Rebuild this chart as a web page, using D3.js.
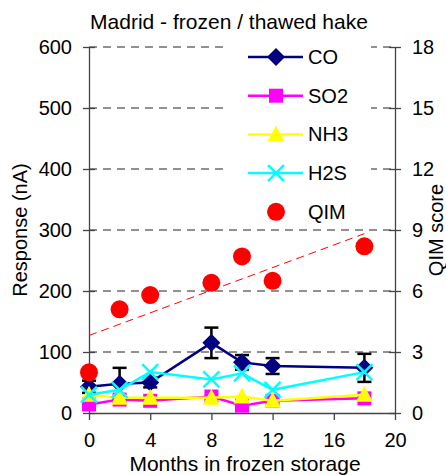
<!DOCTYPE html>
<html>
<head>
<meta charset="utf-8">
<script src="https://cdn.jsdelivr.net/npm/d3@7"></script>
<style>
  body { margin: 0; background: #fff; }
  svg { font-family: "Liberation Sans", Arial, sans-serif; }
</style>
</head>
<body>
<svg id="chart" width="446" height="475"></svg>
<script>

var months = [0, 2, 4, 8, 10, 12, 18];
var coValues = [43, 48, 50, 115, 83, 77, 74];
var coErrors = [10, 26, 8, 25, 12, 13, 23];
var so2Values = [14, 22, 20, 27, 12, 20, 24];
var nh3Values = [30, 25, 25, 25, 27, 20, 30];
var h2sValues = [30, 38, 67, 55, 65, 38, 67];
var qimValues = [2.0, 5.1, 5.8, 6.4, 7.7, 6.5, 8.2];

var xTicks = [0, 4, 8, 12, 16, 20];
var leftTicks = [0, 100, 200, 300, 400, 500, 600];
var rightTicks = [0, 3, 6, 9, 12, 15, 18];

var settings = {
  width: 446, height: 475,
  left: 89, right: 51, top: 47, bottom: 62
};

var svg = d3.select('#chart');
var plotW = settings.width - settings.left - settings.right;
var plotH = settings.height - settings.top - settings.bottom;

var scaleX = d3.scaleLinear().domain([0, 20]).range([0, plotW]);
var scaleY = d3.scaleLinear().domain([0, 600]).range([plotH, 0]);
var scaleQ = d3.scaleLinear().domain([0, 18]).range([plotH, 0]);

var plot = svg.append('g')
  .attr('transform', 'translate(' + settings.left + ',' + settings.top + ')');

// gridlines
plot.selectAll('.grid')
  .data(leftTicks.filter(function(d) { return d > 0; }))
  .enter().append('line')
  .attr('x1', 0).attr('x2', plotW)
  .attr('y1', function(d) { return scaleY(d); })
  .attr('y2', function(d) { return scaleY(d); })
  .attr('stroke', '#222').attr('stroke-width', 1)
  .attr('stroke-dasharray', '8,6');

// axes
var axisL = plot.append('g').call(d3.axisLeft(scaleY).tickValues(leftTicks).tickSizeInner(6).tickSizeOuter(0).tickPadding(11));
var axisR = plot.append('g').attr('transform', 'translate(' + plotW + ',0)')
  .call(d3.axisRight(scaleQ).tickValues(rightTicks).tickSizeInner(6).tickSizeOuter(0).tickPadding(11));
var axisB = plot.append('g').attr('transform', 'translate(0,' + plotH + ')')
  .call(d3.axisBottom(scaleX).tickValues(xTicks).tickSizeInner(7).tickSizeOuter(0).tickPadding(13));

[axisL, axisR].forEach(function(ax) {
  ax.selectAll('.tick line').attr('x1', -6).attr('x2', 6);
});
[axisL, axisR, axisB].forEach(function(ax) {
  ax.select('.domain').attr('stroke', '#444').attr('stroke-width', 1.3);
  ax.selectAll('.tick line').attr('stroke', '#444').attr('stroke-width', 1.3);
  ax.selectAll('.tick text').attr('font-size', 20).attr('fill', '#000')
    .attr('font-family', '"Liberation Sans", Arial, sans-serif');
});

// legend background (drawn before the data, over the gridlines)
var legend = svg.append('g').attr('transform', 'translate(248,57)');
legend.append('rect')
  .attr('x', -22).attr('y', -19).attr('width', 145).attr('height', 186)
  .attr('fill', '#fff');

// QIM trend line (least squares)
var mx = d3.mean(months), my = d3.mean(qimValues);
var sxy = d3.sum(months, function(d, i) { return (d - mx) * (qimValues[i] - my); });
var sxx = d3.sum(months, function(d) { return (d - mx) * (d - mx); });
var slope = sxy / sxx, intercept = my - slope * mx;
plot.append('line')
  .attr('x1', scaleX(0)).attr('y1', scaleQ(intercept))
  .attr('x2', scaleX(18)).attr('y2', scaleQ(intercept + slope * 18))
  .attr('stroke', '#ff0000').attr('stroke-width', 1)
  .attr('stroke-dasharray', '8,5');

// CO error bars
var errG = plot.append('g');
months.forEach(function(m, i) {
  var x = scaleX(m), y1 = scaleY(coValues[i] + coErrors[i]), y2 = scaleY(coValues[i] - coErrors[i]);
  errG.append('line').attr('x1', x).attr('x2', x).attr('y1', y1).attr('y2', y2)
    .attr('stroke', '#000').attr('stroke-width', 2.5);
  [y1, y2].forEach(function(y) {
    errG.append('line').attr('x1', x - 7).attr('x2', x + 7).attr('y1', y).attr('y2', y)
      .attr('stroke', '#000').attr('stroke-width', 2.5);
  });
});

function drawMarker(g, type, color, x, y) {
  if (type === 'diamond') {
    g.append('path').attr('d', 'M' + x + ',' + (y - 9) + 'L' + (x + 9) + ',' + y + 'L' + x + ',' + (y + 9) + 'L' + (x - 9) + ',' + y + 'Z')
      .attr('fill', color);
  } else if (type === 'square') {
    g.append('rect').attr('x', x - 7).attr('y', y - 7).attr('width', 14).attr('height', 14).attr('fill', color);
  } else if (type === 'triangle') {
    g.append('path').attr('d', 'M' + x + ',' + (y - 9) + 'L' + (x + 8.5) + ',' + (y + 7) + 'L' + (x - 8.5) + ',' + (y + 7) + 'Z')
      .attr('fill', color);
  } else if (type === 'cross') {
    g.append('path').attr('d', 'M' + (x - 8) + ',' + (y - 8) + 'L' + (x + 8) + ',' + (y + 8) + 'M' + (x + 8) + ',' + (y - 8) + 'L' + (x - 8) + ',' + (y + 8))
      .attr('stroke', color).attr('stroke-width', 2.5).attr('fill', 'none');
  } else if (type === 'circle') {
    g.append('circle').attr('cx', x).attr('cy', y).attr('r', 9).attr('fill', color);
  }
}

var series = [
  { name: 'CO', values: coValues, color: '#000080', marker: 'diamond' },
  { name: 'SO2', values: so2Values, color: '#ff00ff', marker: 'square' },
  { name: 'NH3', values: nh3Values, color: '#ffff00', marker: 'triangle' },
  { name: 'H2S', values: h2sValues, color: '#00ffff', marker: 'cross' }
];

var line = d3.line()
  .x(function(d, i) { return scaleX(months[i]); })
  .y(function(d) { return scaleY(d); });

series.forEach(function(s) {
  var g = plot.append('g');
  g.append('path').attr('d', line(s.values))
    .attr('fill', 'none').attr('stroke', s.color).attr('stroke-width', 2.5);
  s.values.forEach(function(v, i) { drawMarker(g, s.marker, s.color, scaleX(months[i]), scaleY(v)); });
});

var qimG = plot.append('g');
qimValues.forEach(function(v, i) { drawMarker(qimG, 'circle', '#ff0000', scaleX(months[i]), scaleQ(v)); });

// legend entries
var legendItems = series.concat([{ name: 'QIM', color: '#ff0000', marker: 'circle' }]);
legendItems.forEach(function(s, i) {
  var y = i * 38.7;
  if (s.marker !== 'circle') {
    legend.append('line').attr('x1', 0).attr('x2', 55).attr('y1', y).attr('y2', y)
      .attr('stroke', s.color).attr('stroke-width', 2.5);
  }
  drawMarker(legend, s.marker, s.color, 28, y);
  legend.append('text').attr('x', 60).attr('y', y + 7)
    .attr('font-size', 20).text(s.name);
});

// titles
svg.append('text').attr('x', 229).attr('y', 29).attr('text-anchor', 'middle')
  .attr('font-size', 21).text('Madrid - frozen / thawed hake');
svg.append('text').attr('x', 245).attr('y', 471).attr('text-anchor', 'middle')
  .attr('font-size', 21).text('Months in frozen storage');
svg.append('text').attr('transform', 'translate(27,' + (settings.top + plotH / 2) + ') rotate(-90)')
  .attr('text-anchor', 'middle').attr('font-size', 20).text('Response (nA)');
svg.append('text').attr('transform', 'translate(443,' + (settings.top + plotH / 2) + ') rotate(-90)')
  .attr('text-anchor', 'middle').attr('font-size', 20).text('QIM score');

</script>
</body>
</html>
